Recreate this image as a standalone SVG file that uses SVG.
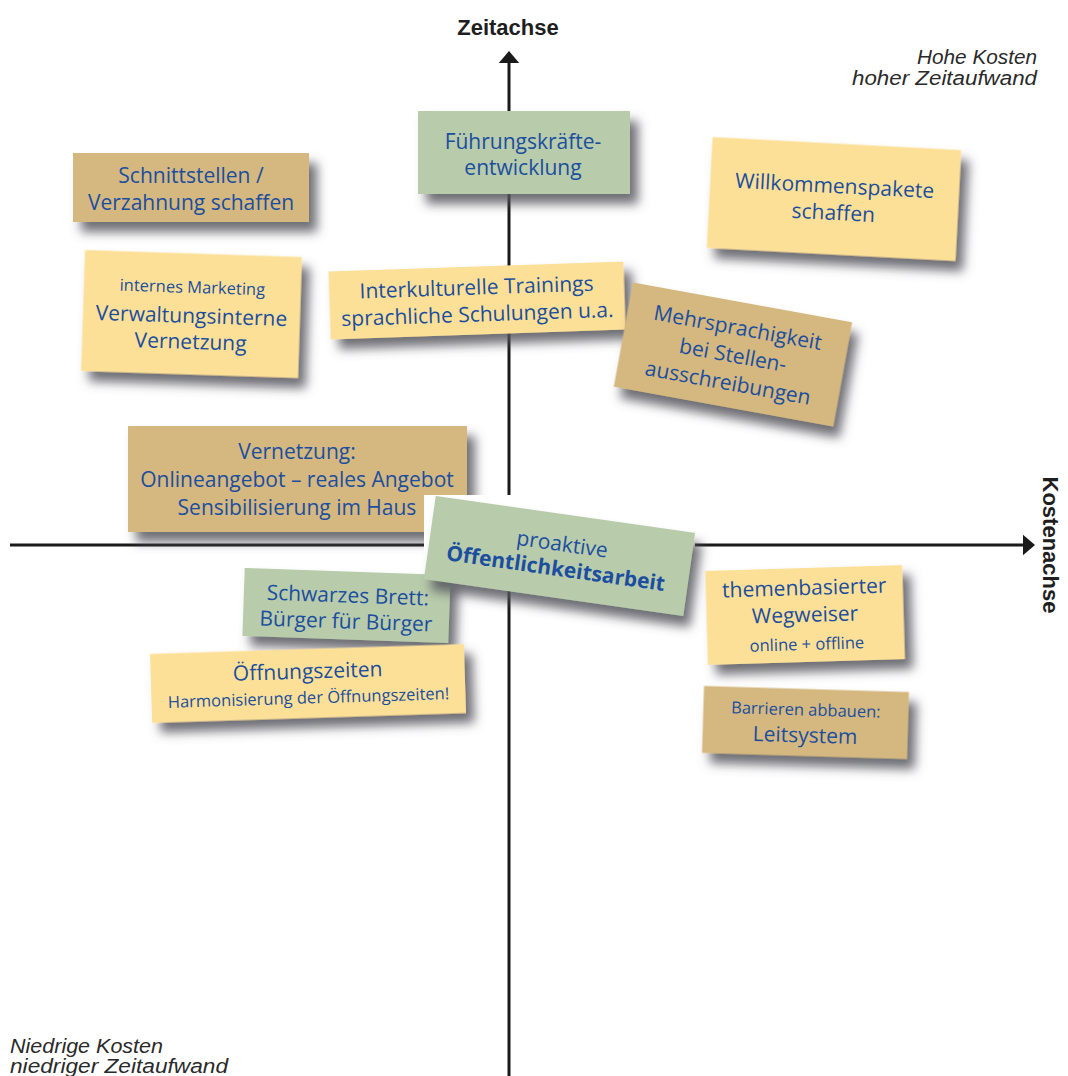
<svg xmlns="http://www.w3.org/2000/svg" width="1068" height="1076" viewBox="0 0 1068 1076">
<defs>
<filter id="sh" x="-20%" y="-30%" width="150%" height="180%">
<feGaussianBlur in="SourceAlpha" stdDeviation="5.5"/>
<feOffset dx="8" dy="10" result="b"/>
<feFlood flood-color="#55555e" flood-opacity="0.85"/>
<feComposite in2="b" operator="in"/>
<feMerge><feMergeNode/><feMergeNode in="SourceGraphic"/></feMerge>
</filter>
<marker id="arr" markerWidth="8" markerHeight="8" refX="1" refY="4" orient="auto" markerUnits="strokeWidth">
<path d="M0,0.6 L4,4 L0,7.4 Z" fill="#1a1a1a"/>
</marker>
</defs>
<style>
.tan{fill:#d4b87f}
.yel{fill:#fde097}
.grn{fill:#b8cbab}
.t{font-family:"Open Sans","Noto Sans",sans-serif;font-size:21px;fill:#1b4e9f;text-anchor:middle}
.s{font-size:16.5px}
.b{font-weight:bold}
.ax{font-family:"Liberation Sans",Arial,sans-serif;font-size:22px;font-weight:bold;fill:#1e1e1e}
.it{font-family:"Liberation Sans",Arial,sans-serif;font-style:italic;font-size:19.5px;fill:#2a2a2a}
</style>
<rect width="1068" height="1076" fill="#fff"/>

<g id="connectors">
<line x1="509" y1="1076" x2="509" y2="60" stroke="#1a1a1a" stroke-width="3" marker-end="url(#arr)"/>
<line x1="10" y1="545" x2="1026" y2="545" stroke="#1a1a1a" stroke-width="3" marker-end="url(#arr)"/>
</g>

<g id="labels">
<text class="ax" x="508" y="35" text-anchor="middle">Zeitachse</text>
<text class="ax" transform="translate(1043,545) rotate(90)" text-anchor="middle" font-size="22.5">Kostenachse</text>
<text class="it" x="1037" y="64" text-anchor="end" textLength="120" lengthAdjust="spacingAndGlyphs">Hohe Kosten</text>
<text class="it" x="1037" y="85" text-anchor="end" textLength="185" lengthAdjust="spacingAndGlyphs">hoher Zeitaufwand</text>
<text class="it" x="10" y="1053" textLength="153" lengthAdjust="spacingAndGlyphs">Niedrige Kosten</text>
<text class="it" x="10" y="1073" textLength="218" lengthAdjust="spacingAndGlyphs">niedriger Zeitaufwand</text>
</g>

<g id="n-schnittstellen">
<rect class="tan" x="73" y="153" width="236" height="69" filter="url(#sh)"/>
<text class="t" x="191" y="183">Schnittstellen /</text>
<text class="t" x="191" y="210">Verzahnung schaffen</text>
</g>

<g id="n-fuehrung">
<rect class="grn" x="418" y="111" width="212" height="83" filter="url(#sh)"/>
<text class="t" x="523" y="149">Führungskräfte-</text>
<text class="t" x="523" y="175">entwicklung</text>
</g>

<g id="n-willkommen" transform="translate(834,199) rotate(3)">
<rect class="yel" x="-124.5" y="-55.5" width="249" height="111" filter="url(#sh)"/>
<text class="t" x="0" y="-6">Willkommenspakete</text>
<text class="t" x="0" y="21">schaffen</text>
</g>

<g id="n-marketing" transform="translate(191.5,314) rotate(1.85)">
<rect class="yel" x="-108.5" y="-60.5" width="217" height="121" filter="url(#sh)"/>
<text class="t s" x="0" y="-21">internes Marketing</text>
<text class="t" x="0" y="9">Verwaltungsinterne</text>
<text class="t" x="0" y="35">Vernetzung</text>
</g>

<g id="n-interkulturell" transform="translate(477,300.5) rotate(-1.94)">
<rect class="yel" x="-147.5" y="-34" width="295" height="68" filter="url(#sh)"/>
<text class="t" x="0" y="-6">Interkulturelle Trainings</text>
<text class="t" x="0" y="21">sprachliche Schulungen u.a.</text>
</g>

<g id="n-mehrsprachig" transform="translate(733,354.5) rotate(10.3)">
<rect class="tan" x="-111.5" y="-53" width="223" height="106" filter="url(#sh)"/>
<text class="t" x="0" y="-20">Mehrsprachigkeit</text>
<text class="t" x="0" y="8">bei Stellen-</text>
<text class="t" x="0" y="36">ausschreibungen</text>
</g>

<g id="n-vernetzung">
<rect class="tan" x="128" y="426" width="339" height="106" filter="url(#sh)"/>
<text class="t" x="297" y="459">Vernetzung:</text>
<text class="t" x="297" y="487">Onlineangebot – reales Angebot</text>
<text class="t" x="297" y="515">Sensibilisierung im Haus</text>
</g>

<g id="n-schwarzes-brett" transform="translate(346.5,605.5) rotate(2)">
<rect class="grn" x="-103" y="-34" width="206" height="68" filter="url(#sh)"/>
<text class="t" x="1" y="-3">Schwarzes Brett:</text>
<text class="t" x="0" y="23">Bürger für Bürger</text>
</g>

<rect x="424" y="495" width="271" height="62" fill="#fff"/>

<g id="n-proaktiv" transform="translate(559.5,556) rotate(8.1)">
<rect class="grn" x="-131" y="-42" width="262" height="84" filter="url(#sh)"/>
<text class="t" x="1" y="-5">proaktive</text>
<text class="t b" x="-2" y="20">Öffentlichkeitsarbeit</text>
</g>

<g id="n-oeffnungszeiten" transform="translate(308,683.5) rotate(-1.8)">
<rect class="yel" x="-157" y="-34.5" width="314" height="69" filter="url(#sh)"/>
<text class="t" x="0" y="-5">Öffnungszeiten</text>
<text class="t s" x="0" y="20">Harmonisierung der Öffnungszeiten!</text>
</g>

<g id="n-wegweiser" transform="translate(805,615) rotate(-1.7)">
<rect class="yel" x="-98.5" y="-47" width="197" height="94" filter="url(#sh)"/>
<text class="t" x="0" y="-20">themenbasierter</text>
<text class="t" x="0" y="7">Wegweiser</text>
<text class="t s" x="1" y="35">online + offline</text>
</g>

<g id="n-barrieren" transform="translate(805.5,722.5) rotate(1.7)">
<rect class="tan" x="-102.5" y="-33.5" width="205" height="67" filter="url(#sh)"/>
<text class="t s" x="0" y="-7">Barrieren abbauen:</text>
<text class="t" x="0" y="20">Leitsystem</text>
</g>
</svg>
